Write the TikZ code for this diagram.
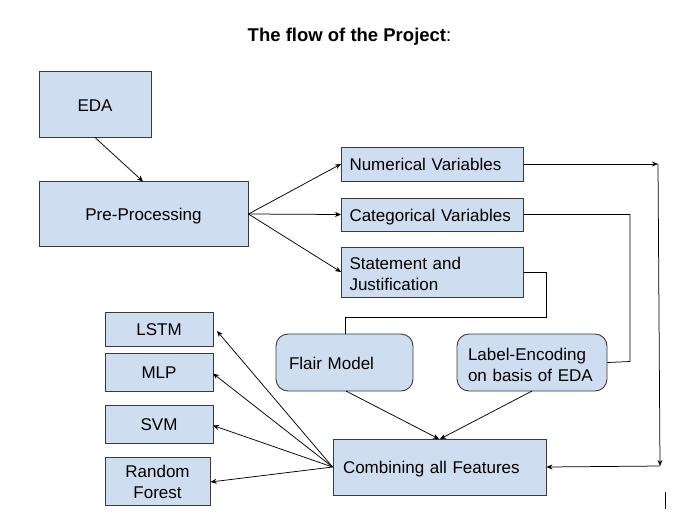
\documentclass[tikz,border=0pt]{standalone}
\usepackage{fontspec}
\setmainfont{Liberation Sans}
\usetikzlibrary{arrows.meta}
\definecolor{boxfill}{HTML}{CFDDF1}
\definecolor{boxline}{HTML}{3A3A3A}
\newcommand{\firstline}{\rule{0pt}{16.5pt}}
\tikzset{
  box/.style={draw=boxline, line width=0.9pt, fill=boxfill, inner sep=0pt,
    font=\fontsize{17}{21}\selectfont, text=black},
  one/.style={text height=13.8pt, text depth=0.3pt},
  lbox/.style={box, align=left, inner xsep=8pt},
  rbox/.style={box, rounded corners=12pt},
  conn/.style={draw=black, line width=0.75pt},
  arr/.style={conn, -{Stealth[length=6pt, width=5pt]}},
}
\begin{document}
\begin{tikzpicture}[x=1pt, y=-1pt]
\useasboundingbox (0,0) rectangle (690,531);
% title
\node (title) at (349.5,36.5) {\fontsize{18.5}{22}\selectfont\bfseries The flow of the Project\mdseries:};
% boxes
\node[box, one, minimum width=112pt, minimum height=66pt] (eda) at (95,104.5) {EDA};
\node[box, one, minimum width=209pt, minimum height=65pt] (pre) at (143.5,214) {Pre-Processing};
\node[lbox, one, text width=166pt, minimum height=34pt] (num) at (432.5,164) {Numerical Variables};
\node[lbox, one, text width=166pt, minimum height=33pt] (cat) at (432.5,214.5) {Categorical Variables};
\node[lbox, text width=166pt, minimum height=50pt] (stm) at (432.5,272) {\firstline Statement and\\Justification};
\node[box, one, minimum width=108pt, minimum height=34pt] (lstm) at (159,329) {LSTM};
\node[box, one, minimum width=108pt, minimum height=38pt] (mlp) at (159,372) {MLP};
\node[box, one, minimum width=108pt, minimum height=38pt] (svm) at (159,424) {SVM};
\node[box, minimum width=105pt, minimum height=48pt, align=center] (rf) at (157.5,481) {\rule{0pt}{14.5pt}Random\\Forest};
\node[rbox, one, align=left, inner xsep=13pt, text width=111pt, minimum height=57pt] (flair) at (344.5,362.5) {Flair Model};
\node[rbox, align=left, inner xsep=11pt, text width=128pt, minimum height=57pt] (lab) at (532,362.5) {\firstline Label-Encoding\\on basis of EDA};
\node[lbox, one, inner xsep=10pt, text width=193pt, minimum height=56pt] (comb) at (439.5,467) {Combining all Features};
% helper coordinates
\coordinate (r1) at (658,164);
\coordinate (r2) at (660,466);
\coordinate (pc) at (pre.east);
% connectors
\draw[arr] (95,137.5) -- (143,181.5);
\draw[arr] (pc) -- (num.west);
\draw[arr] (pc) -- (cat.west);
\draw[arr] (pc) -- (stm.west);
\draw[arr] (num.east) -- (r1);
\draw[arr] (r1) -- (r2);
\draw[arr] (r2) -- (comb.east);
\draw[conn] (cat.east) -- (630,214.5) -- (630,361.5) -- (lab.east);
\draw[conn] (stm.east) -- (546.5,272) -- (546.5,317) -- (345.5,317) -- (345.5,334);
\draw[arr] (346,391) -- (439,439);
\draw[arr] (532,391) -- (440,439);
\draw[arr] (comb.west) -- (217,331);
\draw[arr] (comb.west) -- (213,373.5);
\draw[arr] (comb.west) -- (213,425.5);
\draw[arr] (comb.west) -- (210.5,482);
% stray cursor mark
\draw[line width=1.6pt, black] (665.5,492) -- (665.5,509);
\end{tikzpicture}
\end{document}
